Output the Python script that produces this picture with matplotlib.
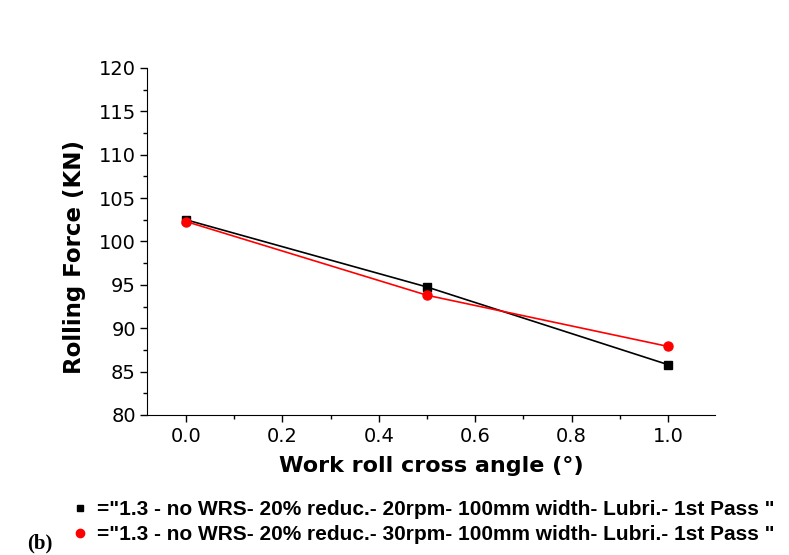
import matplotlib
matplotlib.use("Agg")
import matplotlib.pyplot as plt
from matplotlib.lines import Line2D
from matplotlib.ticker import MultipleLocator, FormatStrFormatter

plt.rcParams['font.family'] = ['DejaVu Sans']

angle = [0.0, 0.5, 1.0]
force_20rpm = [102.5, 94.75, 85.8]
force_30rpm = [102.3, 93.8, 87.9]
labels = ['="1.3 - no WRS- 20% reduc.- 20rpm- 100mm width- Lubri.- 1st Pass "',
          '="1.3 - no WRS- 20% reduc.- 30rpm- 100mm width- Lubri.- 1st Pass "']

fig = plt.figure(figsize=(7.89, 5.55), dpi=100)

ax = fig.add_axes([0.1863, 0.2523, 0.7197, 0.6252])

ax.plot(angle, force_20rpm, color='black', marker='s', markersize=5.5, lw=1.2, label=labels[0])
ax.plot(angle, force_30rpm, color='red', marker='o', markersize=6.5, lw=1.2, label=labels[1])

ax.set_xlim(-0.081, 1.097)
ax.set_ylim(80, 120)
ax.xaxis.set_major_locator(MultipleLocator(0.2))
ax.xaxis.set_minor_locator(MultipleLocator(0.1))
ax.yaxis.set_major_locator(MultipleLocator(5))
ax.yaxis.set_minor_locator(MultipleLocator(2.5))
ax.xaxis.set_major_formatter(FormatStrFormatter('%.1f'))
ax.spines['top'].set_visible(False)
ax.spines['right'].set_visible(False)
ax.tick_params(which='major', direction='out', length=5, width=1, labelsize=14, pad=3)
ax.tick_params(axis='x', which='major', pad=4)
ax.tick_params(which='minor', direction='out', length=3, width=1)

ax.set_xlabel('Work roll cross angle (°)', fontsize=16, fontweight='bold', labelpad=7)
ax.set_ylabel('Rolling Force (KN)', fontsize=16.5, fontweight='bold', labelpad=9, y=0.455)

handles = [Line2D([], [], color='black', marker='s', linestyle='none', markersize=5),
           Line2D([], [], color='red', marker='o', linestyle='none', markersize=6)]
fig.legend(handles, labels, loc='upper left', bbox_to_anchor=(0.094, 0.099),
           frameon=False, handlelength=0.6, handletextpad=0.5, labelspacing=0.3,
           borderaxespad=0, borderpad=0,
           prop={'family': 'Liberation Sans', 'weight': 'bold', 'size': 15})

fig.text(0.034, 0.012, '(b)', fontsize=15, fontweight='bold', family='Liberation Serif')

fig.savefig('out.png', dpi=100)
